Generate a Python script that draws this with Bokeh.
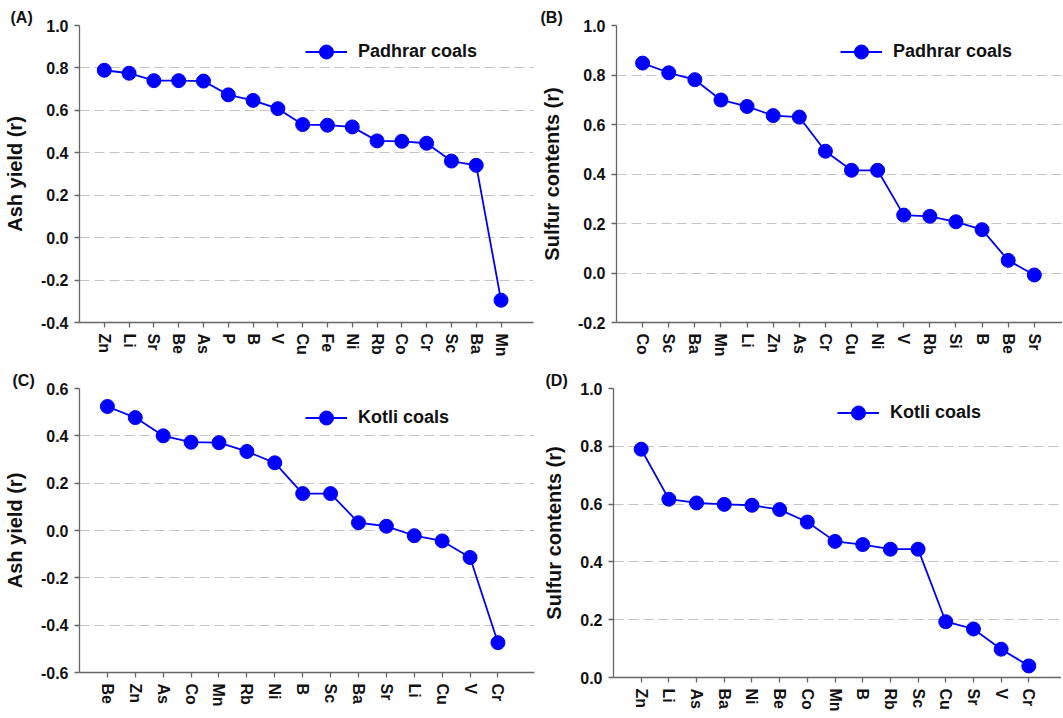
from bokeh.plotting import figure
from bokeh.models import (Range1d, FixedTicker, NumeralTickFormatter, Legend,
                          LegendItem, ColumnDataSource)
from bokeh.layouts import column, row
from bokeh.embed import file_html
from bokeh.resources import INLINE

# ---------------- data ----------------
A_elements = ["Zn", "Li", "Sr", "Be", "As", "P", "B", "V", "Cu", "Fe", "Ni", "Rb", "Co", "Cr", "Sc", "Ba", "Mn"]
A_r = [0.789, 0.775, 0.740, 0.740, 0.738, 0.673, 0.647, 0.608, 0.533, 0.530, 0.522, 0.456, 0.454, 0.445, 0.361, 0.341, -0.295]

B_elements = ["Co", "Sc", "Ba", "Mn", "Li", "Zn", "As", "Cr", "Cu", "Ni", "V", "Rb", "Si", "B", "Be", "Sr"]
B_r = [0.848, 0.809, 0.781, 0.699, 0.673, 0.636, 0.630, 0.492, 0.415, 0.415, 0.234, 0.229, 0.207, 0.175, 0.051, -0.008]

C_elements = ["Be", "Zn", "As", "Co", "Mn", "Rb", "Ni", "B", "Sc", "Ba", "Sr", "Li", "Cu", "V", "Cr"]
C_r = [0.524, 0.477, 0.400, 0.373, 0.371, 0.334, 0.286, 0.156, 0.156, 0.033, 0.018, -0.022, -0.044, -0.114, -0.474]

D_elements = ["Zn", "Li", "As", "Ba", "Ni", "Be", "Co", "Mn", "B", "Rb", "Sc", "Cu", "Sr", "V", "Cr"]
D_r = [0.790, 0.617, 0.604, 0.599, 0.596, 0.581, 0.538, 0.471, 0.460, 0.444, 0.444, 0.193, 0.168, 0.098, 0.040]

A_yticks = [-0.4, -0.2, 0.0, 0.2, 0.4, 0.6, 0.8, 1.0]
B_yticks = [-0.2, 0.0, 0.2, 0.4, 0.6, 0.8, 1.0]
C_yticks = [-0.6, -0.4, -0.2, 0.0, 0.2, 0.4, 0.6]
D_yticks = [0.0, 0.2, 0.4, 0.6, 0.8, 1.0]

FONT = "Liberation Sans"
BLUE = "#0000ff"


def panel(tag, elements, vals, yticks, ylabel, legend_text,
          fw, fh, bl, br, bt, bb, xend, leg_xy, tag_offset):
    n = len(elements)
    p = figure(frame_width=fw, frame_height=fh, output_backend="svg", toolbar_location=None,
               x_range=Range1d(-1, xend), y_range=Range1d(yticks[0], yticks[-1]),
               min_border_left=bl, min_border_right=br, min_border_top=bt,
               min_border_bottom=bb, title=tag)
    p.title.align = "left"
    p.title.offset = tag_offset
    p.title.standoff = 0
    p.title.text_font = FONT
    p.title.text_font_style = "bold"
    p.title.text_font_size = "16px"
    p.title.text_color = "#111111"
    p.outline_line_color = None
    p.background_fill_color = "white"
    p.border_fill_color = "white"
    src = ColumnDataSource(dict(x=list(range(n)), y=vals))
    ln = p.line("x", "y", source=src, line_color=BLUE, line_width=1.8)
    sc = p.scatter("x", "y", source=src, size=14, fill_color=BLUE, line_color=BLUE)

    p.xgrid.grid_line_color = None
    p.ygrid.grid_line_color = "#c4c4c4"
    p.ygrid.grid_line_dash = "10 5"
    p.ygrid.grid_line_width = 1.2

    p.xaxis.ticker = FixedTicker(ticks=list(range(n)))
    p.xaxis.major_label_overrides = {i: e for i, e in enumerate(elements)}
    p.xaxis.major_label_orientation = "vertical"
    p.yaxis.ticker = FixedTicker(ticks=yticks)
    p.yaxis.formatter = NumeralTickFormatter(format="0.0")
    p.yaxis.axis_label = ylabel

    for ax in (p.xaxis[0], p.yaxis[0]):
        ax.axis_line_color = "#666666"
        ax.axis_line_width = 1.3
        ax.major_tick_line_color = "#666666"
        ax.major_tick_line_width = 1.3
        ax.major_tick_in = 0
        ax.major_tick_out = 5
        ax.minor_tick_line_color = None
        ax.major_label_text_font = FONT
        ax.major_label_text_font_style = "bold"
        ax.major_label_text_font_size = "16px"
        ax.major_label_text_color = "#111111"
        ax.major_label_standoff = 6
        ax.axis_label_text_font = FONT
        ax.axis_label_text_font_style = "bold"
        ax.axis_label_text_font_size = "20px"
        ax.axis_label_text_color = "#111111"
        ax.axis_label_standoff = 12

    leg = Legend(items=[LegendItem(label=legend_text, renderers=[ln, sc])],
                 location=leg_xy, glyph_width=42, glyph_height=35,
                 label_standoff=11, padding=0, margin=0, spacing=0,
                 border_line_alpha=0, background_fill_alpha=0,
                 label_text_font=FONT, label_text_font_style="bold",
                 label_text_font_size="18px", label_text_color="#111111")
    p.add_layout(leg)
    return p


pA = panel("(A)", A_elements, A_r, A_yticks, "Ash yield (r)", "Padhrar coals",
           454, 297, 78, 4, 25, 38, 17.31, (226, 253.5), -69)
pB = panel("(B)", B_elements, B_r, B_yticks, "Sulfur contents (r)", "Padhrar coals",
           446, 297, 78, 0, 25, 38, 16.08, (224, 253.5), -76)
pC = panel("(C)", C_elements, C_r, C_yticks, "Ash yield (r)", "Kotli coals",
           455, 284, 79, 3, 28, 44, 15.31, (226, 237.5), -67)
pD = panel("(D)", D_elements, D_r, D_yticks, "Sulfur contents (r)", "Kotli coals",
           448, 289, 76, 0, 28, 38, 15.18, (224, 247.5), -68)

layout = column(row(pA, pB, spacing=0), row(pC, pD, spacing=0), spacing=0)

with open("out.html", "w") as f:
    f.write(file_html(layout, INLINE))
